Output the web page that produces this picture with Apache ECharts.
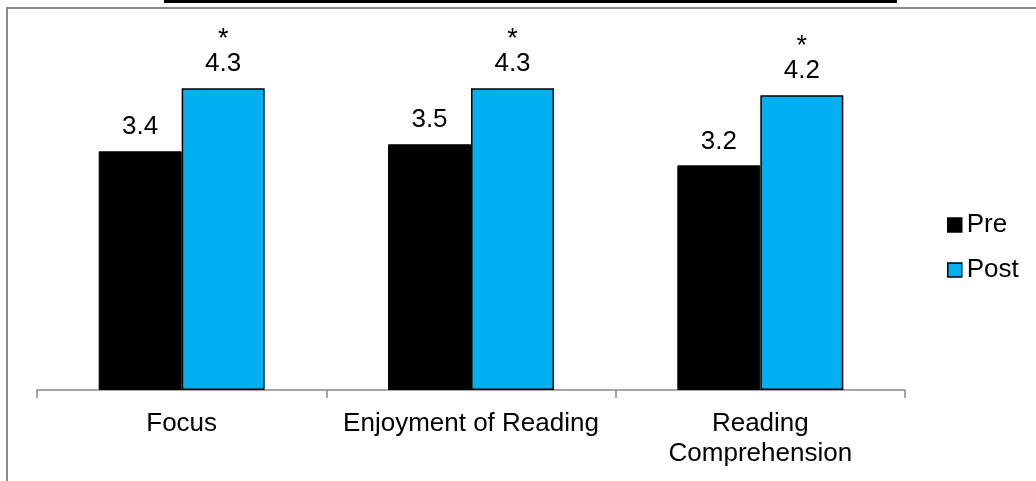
<!DOCTYPE html>
<html>
<head>
<meta charset="utf-8">
<script src="https://cdn.jsdelivr.net/npm/echarts@6/dist/echarts.min.js"></script>
<style>
  html, body { margin: 0; padding: 0; background: #fff; }
  #chart { width: 1036px; height: 481px; }
</style>
</head>
<body>
<div id="chart"></div>
<script>
// Survey scores before and after, per skill area
const categories = ['Focus', 'Enjoyment of Reading', 'Reading\nComprehension'];
const preScores = [3.4, 3.5, 3.2];
const postScores = [4.3, 4.3, 4.2];
const significant = [true, true, true]; // marked with an asterisk above the Post bar

const FONT = '"Liberation Sans", Arial, sans-serif';
const chart = echarts.init(document.getElementById('chart'), null, { renderer: 'canvas' });

chart.setOption({
  backgroundColor: '#ffffff',
  animation: false,
  textStyle: { fontFamily: FONT },
  graphic: [
    // outer frame of the chart area
    { type: 'rect', shape: { x: 7, y: 8, width: 1200, height: 700 },
      style: { fill: null, stroke: '#8a8a8a', lineWidth: 2 }, silent: true },
    // heading band running off the top edge
    { type: 'rect', shape: { x: 164, y: -10, width: 733, height: 13 },
      style: { fill: '#000' }, silent: true }
  ],
  legend: {
    orient: 'vertical',
    left: 942,
    top: 207,
    itemWidth: 14,
    itemHeight: 14,
    itemGap: 19,
    itemStyle: { borderColor: '#000', borderWidth: 1.5 },
    icon: 'rect',
    textStyle: { fontFamily: FONT, fontSize: 26, color: '#000' },
    data: ['Pre', 'Post']
  },
  grid: { left: 37, right: 131, top: 39, bottom: 91 },
  xAxis: {
    type: 'category',
    data: categories,
    axisLine: { lineStyle: { color: '#8a8a8a', width: 1.5 } },
    axisTick: { show: true, length: 8, lineStyle: { color: '#8a8a8a', width: 1.5 } },
    axisLabel: { interval: 0, color: '#000', fontFamily: FONT, fontSize: 26, lineHeight: 30, margin: 19 }
  },
  yAxis: {
    type: 'value', min: 0, max: 5, show: false,
    splitLine: { show: false }
  },
  series: [
    {
      name: 'Pre', type: 'bar', data: preScores,
      barWidth: 83, barGap: '0%',
      itemStyle: { color: '#000000', borderColor: '#000', borderWidth: 1 },
      label: { show: true, position: 'top', distance: 11, color: '#000', fontFamily: FONT, fontSize: 26,
               formatter: p => p.value.toFixed(1) }
    },
    {
      name: 'Post', type: 'bar', data: postScores,
      barWidth: 83,
      itemStyle: { color: '#00b0f0', borderColor: '#000', borderWidth: 1.5 },
      label: {
        show: true, position: 'top', distance: 11,
        formatter: p => (significant[p.dataIndex] ? '{s|*}\n' : '') + '{v|' + p.value.toFixed(1) + '}',
        rich: {
          s: { fontFamily: FONT, fontSize: 27, color: '#000', lineHeight: 24 },
          v: { fontFamily: FONT, fontSize: 26, color: '#000', lineHeight: 26 }
        }
      }
    }
  ]
});
</script>
</body>
</html>
